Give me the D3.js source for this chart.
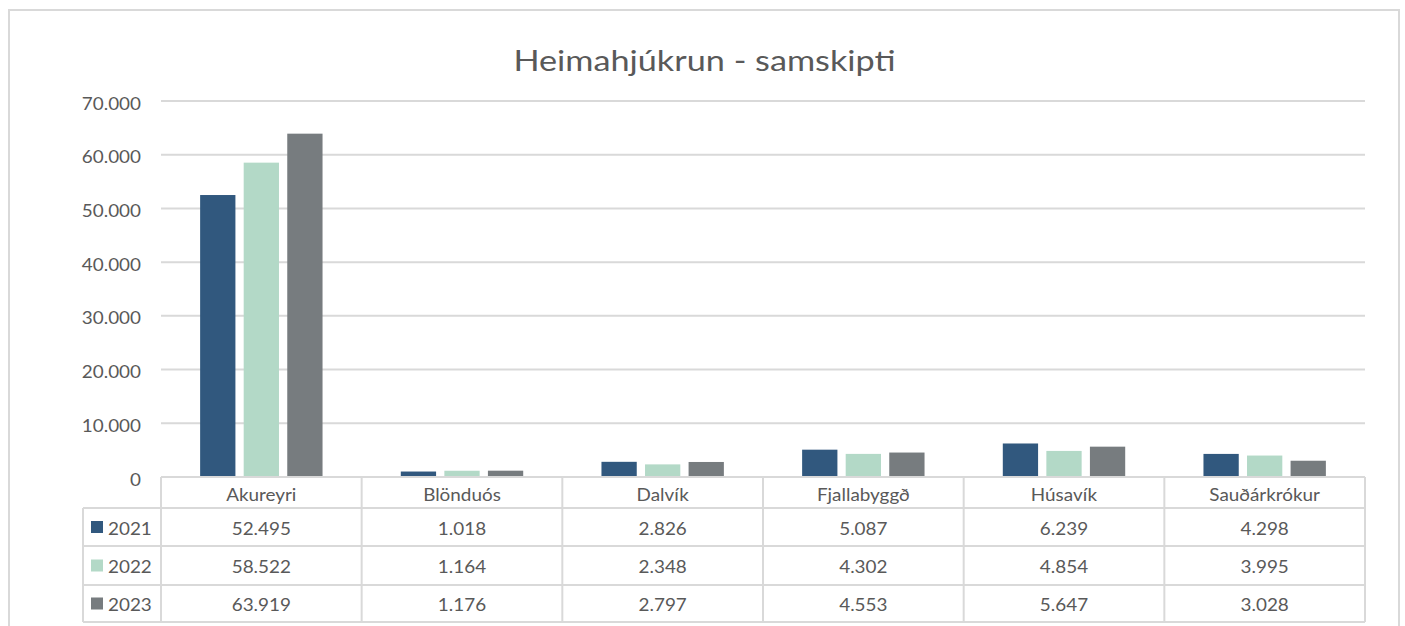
<!DOCTYPE html>
<html>
<head>
<meta charset="utf-8">
<script src="https://cdn.jsdelivr.net/npm/d3@7"></script>
<style>
  html, body { margin: 0; padding: 0; background: #fff; }
  svg { display: block; font-family: Lato, "Open Sans", sans-serif; }
</style>
</head>
<body>
<svg id="chart" width="1405" height="626"></svg>
<script>
// Home-nursing contacts per location and year
const categories = ["Akureyri", "Blönduós", "Dalvík", "Fjallabyggð", "Húsavík", "Sauðárkrókur"];
const years = ["2021", "2022", "2023"];
const values2021 = [52495, 1018, 2826, 5087, 6239, 4298];
const values2022 = [58522, 1164, 2348, 4302, 4854, 3995];
const values2023 = [63919, 1176, 2797, 4553, 5647, 3028];
const yTicks = [0, 10000, 20000, 30000, 40000, 50000, 60000, 70000];
const colors = ["#31587e", "#b3d9c7", "#777c7f"];
const title = "Heimahjúkrun - samskipti";

const seriesValues = [values2021, values2022, values2023];

const svg = d3.select("#chart");
const textColor = "#595959";
const lineColor = "#d9d9d9";
const widen = 1.11; // horizontal stretch giving the wider typeface proportions

// Widen text glyphs horizontally around their anchor
function stretch(sel, factor) {
  sel.each(function () {
    const len = this.getComputedTextLength();
    d3.select(this)
      .attr("textLength", len * factor)
      .attr("lengthAdjust", "spacingAndGlyphs");
  });
}

// Number format with period as thousands separator
const locale = d3.formatLocale({ decimal: ",", thousands: ".", grouping: [3], currency: ["", " kr."] });
const fmt = locale.format(",d");

const plot = { left: 161, right: 1365, top: 101, bottom: 477 };

// Outer chart frame
svg.append("rect")
  .attr("x", 9).attr("y", 10)
  .attr("width", 1390).attr("height", 640)
  .attr("fill", "none").attr("stroke", lineColor).attr("stroke-width", 2);

// Title
svg.append("text")
  .attr("x", 704.5).attr("y", 71)
  .attr("text-anchor", "middle")
  .attr("fill", textColor)
  .attr("font-size", 29.5)
  .text(title)
  .call(stretch, 1.16);

const x0 = d3.scaleBand().domain(categories).range([plot.left, plot.right]).paddingInner(0).paddingOuter(0);
const bw = x0.bandwidth();
const groupInner = 0.61; // fraction of each band used by the bar group
const x1 = d3.scaleBand().domain(years)
  .range([bw * (1 - groupInner) / 2, bw * (1 + groupInner) / 2])
  .paddingInner(0.19);

const y = d3.scaleLinear().domain([0, 70000]).range([plot.bottom, plot.top]);

// Gridlines + tick labels
const yAxis = d3.axisLeft(y).tickValues(yTicks).tickSize(0).tickFormat(fmt);
const yg = svg.append("g").attr("transform", `translate(${plot.left},0)`).call(yAxis);
yg.select(".domain").remove();
yg.selectAll("text")
  .attr("x", -20)
  .attr("dy", "0.47em")
  .attr("fill", textColor)
  .attr("font-size", 17)
  .attr("font-family", "Lato, sans-serif")
  .call(stretch, widen);

svg.append("g").selectAll("line")
  .data(yTicks.filter(d => d > 0))
  .join("line")
  .attr("x1", plot.left).attr("x2", plot.right)
  .attr("y1", d => y(d)).attr("y2", d => y(d))
  .attr("stroke", lineColor).attr("stroke-width", 2);

// Bars
const groups = svg.append("g").selectAll("g")
  .data(categories)
  .join("g")
  .attr("transform", d => `translate(${x0(d)},0)`);

groups.selectAll("rect")
  .data((c, i) => years.map((yr, k) => ({ yr, v: seriesValues[k][i], k })))
  .join("rect")
  .attr("x", d => x1(d.yr))
  .attr("width", x1.bandwidth())
  .attr("y", d => y(d.v))
  .attr("height", d => y(0) - y(d.v))
  .attr("fill", d => colors[d.k]);

// Data table
const rowTops = [477, 508, 546, 585, 622];
const legendLeft = 83;
const tbl = svg.append("g");

// header cells (categories)
categories.forEach(c => {
  tbl.append("text")
    .attr("x", x0(c) + bw / 2).attr("y", 501)
    .attr("text-anchor", "middle")
    .attr("fill", textColor).attr("font-size", 17)
    .text(c)
    .call(stretch, widen);
});

// value rows with legend keys
years.forEach((yr, k) => {
  const cy = (rowTops[k + 1] + rowTops[k + 2]) / 2 + 2;
  tbl.append("rect")
    .attr("x", 91).attr("y", cy - 8)
    .attr("width", 12).attr("height", 12)
    .attr("fill", colors[k]);
  tbl.append("text")
    .attr("x", 108).attr("y", cy).attr("dy", "0.35em")
    .attr("fill", textColor).attr("font-size", 17)
    .text(yr)
    .call(stretch, widen);
  categories.forEach((c, i) => {
    tbl.append("text")
      .attr("x", x0(c) + bw / 2).attr("y", cy).attr("dy", "0.35em")
      .attr("text-anchor", "middle")
      .attr("fill", textColor).attr("font-size", 17)
      .text(fmt(seriesValues[k][i]))
      .call(stretch, widen);
  });
});

// table grid lines
const gridLines = [];
// horizontal
gridLines.push([plot.left, rowTops[0], plot.right, rowTops[0]]);
for (let r = 1; r < rowTops.length; r++) {
  gridLines.push([legendLeft, rowTops[r], plot.right, rowTops[r]]);
}
// vertical
categories.forEach(c => gridLines.push([x0(c), rowTops[0], x0(c), rowTops[4]]));
gridLines.push([plot.right, rowTops[0], plot.right, rowTops[4]]);
gridLines.push([legendLeft, rowTops[1], legendLeft, rowTops[4]]);

tbl.selectAll("line.grid")
  .data(gridLines)
  .join("line")
  .attr("class", "grid")
  .attr("x1", d => d[0]).attr("y1", d => d[1])
  .attr("x2", d => d[2]).attr("y2", d => d[3])
  .attr("stroke", lineColor).attr("stroke-width", 2);
</script>
</body>
</html>
